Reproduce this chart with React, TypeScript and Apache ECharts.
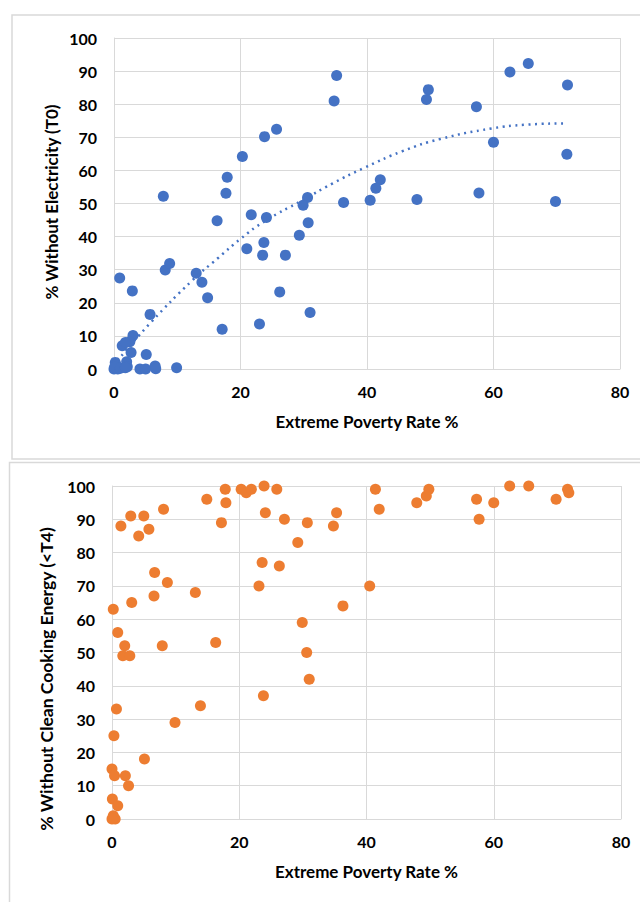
import React, { useEffect, useRef } from "react";
import * as echarts from "echarts";

const xTicks = [0, 20, 40, 60, 80];
const yTicks = [0, 10, 20, 30, 40, 50, 60, 70, 80, 90, 100];

const electricityPoints: [number, number][] = [
  [35.2, 88.7], [34.8, 81.0], [49.7, 84.4], [49.4, 81.4], [57.3, 79.2], [62.6, 89.7],
  [65.5, 92.3], [71.7, 85.8], [60.0, 68.5], [71.6, 64.9], [57.7, 53.2], [69.8, 50.6],
  [47.9, 51.2], [40.5, 51.0], [42.1, 57.2], [41.4, 54.6], [36.3, 50.3], [30.6, 51.8],
  [29.9, 49.5], [30.7, 44.2], [29.3, 40.4], [25.7, 72.4], [23.8, 70.2], [20.3, 64.2],
  [17.9, 57.9], [17.7, 53.1], [16.3, 44.8], [21.7, 46.6], [24.1, 45.8], [21.0, 36.3],
  [23.7, 38.2], [23.5, 34.4], [27.1, 34.4], [26.2, 23.3], [31.0, 17.1], [23.0, 13.6],
  [17.1, 12.0], [13.0, 28.9], [13.9, 26.2], [14.8, 21.5], [7.8, 52.2], [8.1, 29.9],
  [8.8, 31.9], [0.9, 27.5], [2.9, 23.6], [5.7, 16.5], [3.0, 10.1], [2.5, 8.2],
  [1.3, 7.0], [1.8, 8.0], [2.7, 5.0], [5.1, 4.4], [9.9, 0.4], [4.1, 0], [5.0, 0],
  [6.5, 0.9], [6.6, 0.1], [2.0, 2.2], [2.1, 0.7], [0.2, 2.0], [0.3, 1.2], [0, 0],
  [0.6, 0], [0.1, 0.6], [1.0, 0.2], [1.8, 0.4],
];

const electricityTrend: [number, number][] = [
  [1.2, 4.0], [5.8, 14.0], [12.4, 26.8], [16.5, 33.6], [20.0, 39.3], [23.8, 44.6],
  [29.8, 51.0], [34.5, 56.0], [39.6, 60.8], [45.6, 65.8], [51.6, 69.5], [59.8, 72.7],
  [65.0, 73.8], [71.0, 74.2],
];

const cookingPoints: [number, number][] = [
  [0.2, 63], [0.9, 56], [2.0, 52], [1.7, 49], [2.8, 49], [0.7, 33], [0.3, 25],
  [0, 15], [0.4, 13], [2.1, 13], [2.6, 10], [5.1, 18], [0.06, 6], [0.9, 4], [0.2, 1],
  [0.5, 0], [0, 0], [9.9, 29], [13.9, 34], [7.9, 52], [16.3, 53], [3.1, 65], [6.6, 67],
  [6.7, 74], [8.7, 71], [13.1, 68], [1.4, 88], [2.95, 91], [4.2, 85], [5.0, 91],
  [5.8, 87], [8.1, 93], [14.9, 96], [17.2, 89], [17.8, 99], [17.9, 95], [20.3, 99],
  [21.1, 98], [21.9, 99], [23.9, 100], [25.9, 99], [24.1, 92], [27.1, 90], [30.7, 89],
  [29.2, 83], [23.6, 77], [26.3, 76], [23.1, 70], [29.9, 59], [30.6, 50], [31.0, 42],
  [23.8, 37], [34.8, 88], [35.3, 92], [36.3, 64], [40.5, 70], [41.4, 99], [42.0, 93],
  [47.9, 95], [49.4, 97], [49.8, 99], [57.3, 96], [57.7, 90], [60.0, 95], [62.5, 100],
  [65.5, 100], [69.8, 96], [71.6, 99], [71.8, 98],
];

const xTitle = "Extreme Poverty Rate %";
const yTitleTop = "% Without Electricity (T0)";
const yTitleBottom = "% Without Clean Cooking Energy (<T4)";

const FONT = "Lato, 'Liberation Sans', sans-serif";
const GRID_COLOR = "#d9d9d9";

function makeXAxis(gridIndex: number) {
  return {
    type: "value",
    gridIndex,
    min: xTicks[0],
    max: xTicks[xTicks.length - 1],
    interval: xTicks[1] - xTicks[0],
    axisLine: { show: true, lineStyle: { color: GRID_COLOR, width: 1 } },
    axisTick: { show: false },
    splitLine: { show: true, lineStyle: { color: GRID_COLOR, width: 1 } },
    axisLabel: { color: "#000", fontFamily: FONT, fontWeight: "bold", fontSize: 16, margin: 14 },
    name: xTitle,
    nameLocation: "middle",
    nameGap: 44,
    nameTextStyle: { color: "#000", fontFamily: FONT, fontWeight: "bold", fontSize: 17 },
  };
}

function makeYAxis(gridIndex: number) {
  return {
    type: "value",
    gridIndex,
    min: yTicks[0],
    max: yTicks[yTicks.length - 1],
    interval: yTicks[1] - yTicks[0],
    axisLine: { show: true, lineStyle: { color: GRID_COLOR, width: 1 } },
    axisTick: { show: false },
    splitLine: { show: true, lineStyle: { color: GRID_COLOR, width: 1 } },
    axisLabel: { color: "#000", fontFamily: FONT, fontWeight: "bold", fontSize: 16, margin: 17 },
  };
}

export default function App() {
  const ref = useRef<HTMLDivElement>(null);

  useEffect(() => {
    if (!ref.current) return;
    const chart = echarts.init(ref.current, null, { renderer: "svg" });
    chart.setOption({
      animation: false,
      backgroundColor: "#fff",
      grid: [
        { left: 114, top: 38, width: 506, height: 331 },
        { left: 112, top: 486, width: 509, height: 333 },
      ],
      xAxis: [makeXAxis(0), makeXAxis(1)],
      yAxis: [makeYAxis(0), makeYAxis(1)],
      graphic: [
        {
          type: "rect",
          shape: { x: 12, y: 15, width: 660, height: 444 },
          style: { fill: "none", stroke: GRID_COLOR, lineWidth: 1.5 },
          z: -1,
        },
        {
          type: "rect",
          shape: { x: 9.5, y: 462.5, width: 660, height: 460 },
          style: { fill: "none", stroke: GRID_COLOR, lineWidth: 1.5 },
          z: -1,
        },
        {
          type: "text",
          x: 51,
          y: 202,
          rotation: Math.PI / 2,
          style: {
            text: yTitleTop,
            fill: "#000",
            font: `bold 17px ${FONT}`,
            align: "center",
            verticalAlign: "middle",
          },
        },
        {
          type: "text",
          x: 46,
          y: 679,
          rotation: Math.PI / 2,
          style: {
            text: yTitleBottom,
            fill: "#000",
            font: `bold 17.5px ${FONT}`,
            align: "center",
            verticalAlign: "middle",
          },
        },
      ],
      series: [
        {
          type: "scatter",
          xAxisIndex: 0,
          yAxisIndex: 0,
          data: electricityPoints,
          symbolSize: 11,
          itemStyle: { color: "#4472C4", opacity: 1 },
        },
        {
          type: "line",
          xAxisIndex: 0,
          yAxisIndex: 0,
          data: electricityTrend,
          smooth: true,
          showSymbol: false,
          symbol: "none",
          lineStyle: { color: "#4472C4", width: 2.5, type: [2, 4.5] },
          z: 3,
        },
        {
          type: "scatter",
          xAxisIndex: 1,
          yAxisIndex: 1,
          data: cookingPoints,
          symbolSize: 11,
          itemStyle: { color: "#ED7D31", opacity: 1 },
        },
      ],
    });
    return () => chart.dispose();
  }, []);

  return (
    <div
      ref={ref}
      style={{ position: "absolute", left: 0, top: 0, width: 640, height: 902 }}
    />
  );
}
